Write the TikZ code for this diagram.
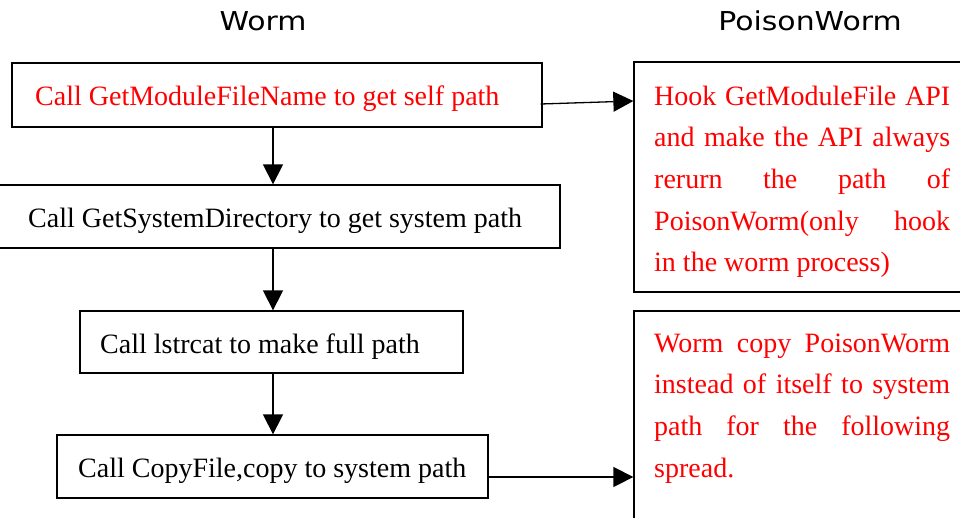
\documentclass[tikz,border=0pt]{standalone}
\usepackage{fontspec}
\setmainfont{Liberation Serif}
\newfontfamily\titlefont[FakeStretch=1.15]{DejaVu Sans}
\usetikzlibrary{arrows.meta,calc}
\begin{document}
\begin{tikzpicture}[x=1pt,y=-1pt,
  boxnode/.style={draw=black,line width=1.3pt,rectangle,inner sep=0pt},
  txt/.style={anchor=base west,inner sep=0pt,font=\fontsize{28pt}{41.7pt}\selectfont},
  redtxt/.style={txt,text=red},
  ttl/.style={anchor=base,inner sep=0pt,font=\titlefont\fontsize{26pt}{30pt}\selectfont},
  arr/.style={line width=1.3pt,-{Triangle[length=20pt,width=20pt]}}]
\useasboundingbox (0,0) rectangle (960,517);
\clip (0,0) rectangle (960,517);
% titles
\node[ttl] (tw) at (263,30) {Worm};
\node[ttl] (tp) at (810,30) {PoisonWorm};
% left boxes
\node[boxnode,minimum width=530pt,minimum height=64pt] (b1) at (277,95) {};
\node[boxnode,minimum width=570pt,minimum height=63pt] (b2) at (275,216.5) {};
\node[boxnode,minimum width=383pt,minimum height=62pt] (b3) at (271.5,342) {};
\node[boxnode,minimum width=431pt,minimum height=63pt] (b4) at (272.5,466.5) {};
\node[redtxt] (t1) at (35,105) {Call GetModuleFileName to get self path};
\node[txt] (t2) at (28,227) {Call GetSystemDirectory to get system path};
\node[txt] (t3) at (100,353) {Call lstrcat to make full path};
\node[txt] (t4) at (78,477) {Call CopyFile,copy to system path};
% right boxes
\node[boxnode,minimum width=340pt,minimum height=230pt] (r1) at (804,177) {};
\node[boxnode,minimum width=340pt,minimum height=220pt] (r2) at (804,421) {};
\node[redtxt] (rt1) at (654,105) {\parbox[t]{296pt}{\hyphenpenalty=10000\fontsize{28pt}{41.7pt}\selectfont
Hook GetModuleFile API\linebreak and make the API always\linebreak rerurn the path of\linebreak PoisonWorm(only hook\linebreak in the worm process)}};
\node[redtxt] (rt2) at (654,352) {\parbox[t]{296pt}{\hyphenpenalty=10000\fontsize{28pt}{41.7pt}\selectfont
Worm copy PoisonWorm\linebreak instead of itself to system\linebreak path for the following\linebreak spread.}};
% connectors
\draw[arr] (b1.south -| 273,0) -- (b2.north -| 273,0);
\draw[arr] (b2.south -| 273,0) -- (b3.north -| 273,0);
\draw[arr] (b3.south -| 273,0) -- (b4.north -| 273,0);
\coordinate (s1) at ($(b1.east)+(-2,9)$);
\coordinate (e1) at ($(r1.west |- b1.east)+(0,6)$);
\draw[arr] (s1) -- (e1);
\coordinate (s4) at ($(b4.east)+(0,10.5)$);
\draw[arr] (s4) -- (s4 -| r2.west);
\end{tikzpicture}
\end{document}
